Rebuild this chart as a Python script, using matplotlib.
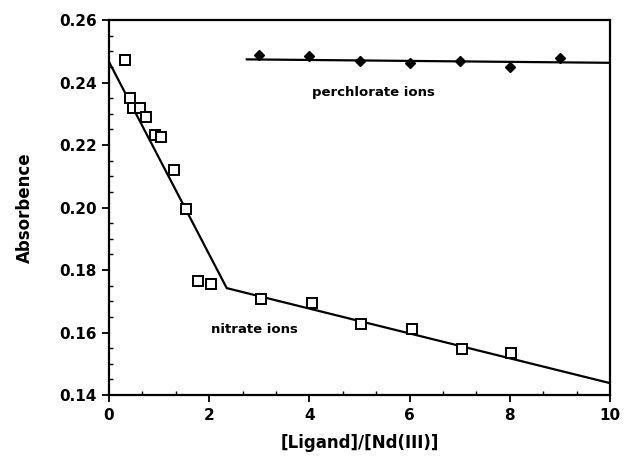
import matplotlib
matplotlib.use("Agg")
import matplotlib.pyplot as plt
from matplotlib.ticker import MultipleLocator

# Nitrate ions (open squares)
nitrate_x = [0.32, 0.42, 0.48, 0.62, 0.74, 0.92, 1.04, 1.30, 1.54, 1.78, 2.03,
             3.03, 4.05, 5.03, 6.05, 7.05, 8.02]
nitrate_y = [0.2472, 0.2350, 0.2318, 0.2318, 0.2290, 0.2232, 0.2226, 0.2120,
             0.1995, 0.1765, 0.1755, 0.1707, 0.1694, 0.1627, 0.1611, 0.1547, 0.1534]
# Nitrate fitted lines (two segments)
nitrate_fit_x = [0.0, 2.35, 10.0]
nitrate_fit_y = [0.2466, 0.1742, 0.1438]

# Perchlorate ions (filled points)
perch_x = [3, 4, 5, 6, 7, 8, 9]
perch_y = [0.2488, 0.2486, 0.2469, 0.2463, 0.2470, 0.2451, 0.2478]
perch_fit_x = [2.75, 10.0]
perch_fit_y = [0.2474, 0.2463]

xticks = [0, 2, 4, 6, 8, 10]
yticks = [0.14, 0.16, 0.18, 0.20, 0.22, 0.24, 0.26]

fig = plt.figure(figsize=(6.31, 4.59), dpi=100)
ax = fig.add_axes([109/631, 1-395/459, (610-109)/631, (395-20)/459])

ax.plot(nitrate_fit_x, nitrate_fit_y, color="black", lw=1.6, zorder=2)
ax.plot(perch_fit_x, perch_fit_y, color="black", lw=1.6, zorder=2)
ax.plot(nitrate_x, nitrate_y, linestyle="none", marker="s", markersize=6.5,
        markerfacecolor="white", markeredgecolor="black", markeredgewidth=1.4, zorder=3)
ax.plot(perch_x, perch_y, linestyle="none", marker="D", markersize=5,
        color="black", zorder=3)

ax.text(5.27, 0.2368, "perchlorate ions", ha="center", va="center",
        fontsize=9.5, fontweight="bold")
ax.text(2.9, 0.161, "nitrate ions", ha="center", va="center",
        fontsize=9.5, fontweight="bold")

ax.set_xlim(0, 10)
ax.set_ylim(0.14, 0.26)
ax.set_xticks(xticks)
ax.set_yticks(yticks)
ax.set_xticklabels([str(t) for t in xticks])
ax.set_yticklabels([f"{t:.2f}" for t in yticks])
ax.xaxis.set_minor_locator(MultipleLocator(2/3))
ax.yaxis.set_minor_locator(MultipleLocator(0.005))
ax.tick_params(axis="both", which="major", direction="out", length=5, width=1.3,
               labelsize=11, pad=4)
ax.tick_params(axis="both", which="minor", direction="in", length=3, width=1.0)
for lab in ax.get_xticklabels() + ax.get_yticklabels():
    lab.set_fontweight("bold")
for s in ax.spines.values():
    s.set_linewidth(1.6)

ax.set_xlabel("[Ligand]/[Nd(III)]", fontsize=12, fontweight="bold", labelpad=8)
ax.set_ylabel("Absorbence", fontsize=12, fontweight="bold", labelpad=18)

fig.savefig("out.png", dpi=100)
